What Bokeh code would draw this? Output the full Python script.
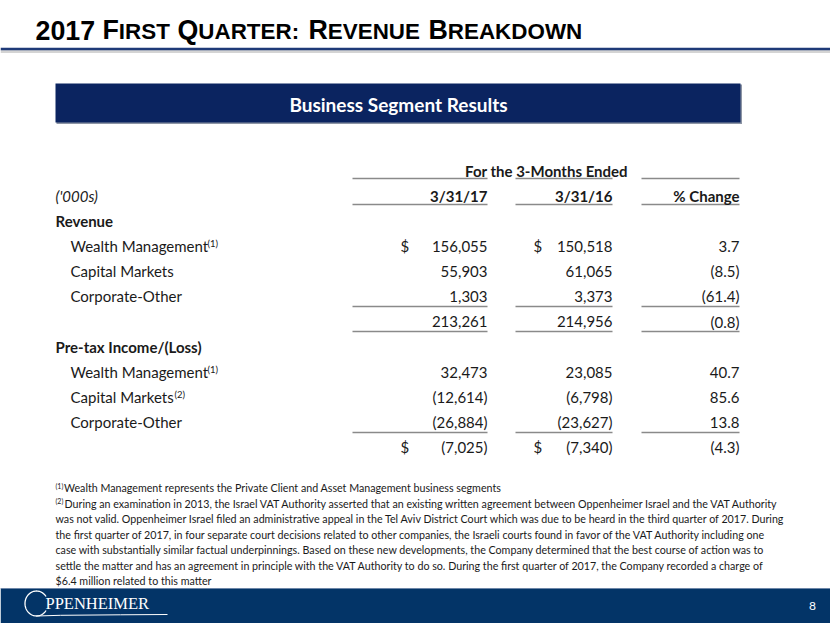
from bokeh.plotting import figure
from bokeh.models import Range1d
from bokeh.core.properties import value
from bokeh.embed import file_html
from bokeh.resources import INLINE
import math

# ---------------- data ----------------
title_words = ["2017", "First", "Quarter:", "Revenue", "Breakdown"]
header_text = "Business Segment Results"
period_label = "For the 3-Months Ended"
col_headers = ["3/31/17", "3/31/16", "% Change"]
unit_label = "('000s)"
rev_section = "Revenue"
pti_section = "Pre-tax Income/(Loss)"
segments = ["Wealth Management", "Capital Markets", "Corporate-Other"]
rev_notes = ["(1)", "", ""]
pti_notes = ["(1)", "(2)", ""]
rev_2017 = [156055, 55903, 1303]
rev_2016 = [150518, 61065, 3373]
rev_pct = [3.7, -8.5, -61.4]
rev_total = [213261, 214956]
rev_total_pct = -0.8
pti_2017 = [32473, -12614, -26884]
pti_2016 = [23085, -6798, -23627]
pti_pct = [40.7, 85.6, 13.8]
pti_total = [-7025, -7340]
pti_total_pct = -4.3
footnote_1 = "Wealth Management represents the Private Client and Asset Management business segments"
footnote_2 = [
    "During an examination in 2013, the Israel VAT Authority asserted that an existing written agreement between Oppenheimer Israel and the VAT Authority",
    "was not valid. Oppenheimer Israel filed an administrative appeal in the Tel Aviv District Court which was due to be heard in the third quarter of 2017. During",
    "the first quarter of 2017, in four separate court decisions related to other companies, the Israeli courts found in favor of the VAT Authority including one",
    "case with substantially similar factual underpinnings. Based on these new developments, the Company determined that the best course of action was to",
    "settle the matter and has an agreement in principle with the VAT Authority to do so. During the first quarter of 2017, the Company recorded a charge of",
    "$6.4 million related to this matter",
]
logo_text = "PPENHEIMER"
page_number = "8"


def fmt_int(v):
    return f"({abs(v):,})" if v < 0 else f"{v:,}"


def fmt_pct(v):
    return f"({abs(v):.1f})" if v < 0 else f"{v:.1f}"


# ---------------- figure ----------------
p = figure(width=830, height=623, x_range=Range1d(0, 830), y_range=Range1d(623, 0),
           output_backend="svg", toolbar_location=None, min_border=0)
p.axis.visible = False
p.grid.visible = False
p.outline_line_color = None
p.background_fill_color = "white"
p.border_fill_color = "white"

TXT = "#1a1a1a"
FONT = "Lato"


def txt(xs, ys, texts, size, font=FONT, style="normal", align="left", color=TXT):
    p.text(x=xs, y=ys, text=texts, text_font=value(font), text_font_size=value(size),
           text_font_style=style, text_align=align, text_baseline="middle", text_color=color)


# ---------------- title (small caps) ----------------
AB = {"F": 611, "Q": 778, "R": 722, "B": 722}
big, small = 26.8, 22.4
title_base = 39
word_x = [35, 102, 177, 308, 428]
for w, x0 in zip(title_words, word_x):
    yb = title_base - 0.35 * big
    ys_ = title_base - 0.35 * small
    if w[0].isdigit():
        txt([x0], [yb], [w], f"{big}px", font="Liberation Sans", style="bold", color="black")
    else:
        txt([x0], [yb], [w[0]], f"{big}px", font="Liberation Sans", style="bold", color="black")
        txt([x0 + AB[w[0]] * big / 1000.0], [ys_], [w[1:].upper()], f"{small}px",
            font="Liberation Sans", style="bold", color="black")

# title rule with shadow
p.segment(x0=[0], x1=[830], y0=[51], y1=[51], line_color="#d4d4d4", line_width=3)
p.segment(x0=[0], x1=[830], y0=[48.5], y1=[48.5], line_color="#1f3a78", line_width=2.5)

# ---------------- header bar ----------------
p.quad(left=[56], right=[741.5], top=[84], bottom=[123.5], fill_color="#8d95a5", line_color=None)
p.quad(left=[55], right=[740], top=[83], bottom=[122], fill_color="#0b2460", line_color=None)
txt([398], [103.5], [header_text], "19px", style="bold", align="center", color="white")

# ---------------- table ----------------
col_right = [487, 612, 739]
col_left = [352, 515, 641]
LINE = "#8a8a8a"

rule_rows = [178, 204, 306, 331, 432]
xs0, xs1, ys = [], [], []
for yy in rule_rows:
    for a, b in zip(col_left, col_right):
        xs0.append(a); xs1.append(b); ys.append(yy)
p.segment(x0=xs0, x1=xs1, y0=ys, y1=ys, line_color=LINE, line_width=1.6)

txt([546], [170], [period_label], "15px", style="bold", align="center")
txt(col_right, [195.5] * 3, col_headers, "15px", style="bold", align="right")
txt([55], [195.5], [unit_label], "15px", style="italic")
txt([55, 55], [220.5, 346.5], [rev_section, pti_section], "15px", style="bold")

rev_rows = [245.5, 270.5, 295.5]
pti_rows = [371.5, 396.5, 421.5]
txt([70] * 3, rev_rows, segments, "15px")
txt([70] * 3, pti_rows, segments, "15px")

# superscripts
sup_x = {"(1)": 207, "(2)": 174}
sx, sy, st = [], [], []
for rows, notes in ((rev_rows, rev_notes), (pti_rows, pti_notes)):
    for yy, n in zip(rows, notes):
        if n:
            sx.append(sup_x[n]); sy.append(yy - 2.5); st.append(n)
txt(sx, sy, st, "9.5px")

# values
txt([col_right[0]] * 3, rev_rows, [fmt_int(v) for v in rev_2017], "15px", align="right")
txt([col_right[1]] * 3, rev_rows, [fmt_int(v) for v in rev_2016], "15px", align="right")
txt([col_right[2]] * 3, rev_rows, [fmt_pct(v) for v in rev_pct], "15px", align="right")
txt(col_right, [321] * 3, [fmt_int(rev_total[0]), fmt_int(rev_total[1]), fmt_pct(rev_total_pct)],
    "15px", align="right")
txt([col_right[0]] * 3, pti_rows, [fmt_int(v) for v in pti_2017], "15px", align="right")
txt([col_right[1]] * 3, pti_rows, [fmt_int(v) for v in pti_2016], "15px", align="right")
txt([col_right[2]] * 3, pti_rows, [fmt_pct(v) for v in pti_pct], "15px", align="right")
txt(col_right, [446.5] * 3, [fmt_int(pti_total[0]), fmt_int(pti_total[1]), fmt_pct(pti_total_pct)],
    "15px", align="right")
txt([400, 533, 400, 533], [245.5, 245.5, 446.5, 446.5], ["$"] * 4, "15px")

# ---------------- footnotes ----------------
FN = "10.7px"
fn0 = 487
step = 15.5
txt([55, 55], [fn0 - 2, fn0 + step - 2], ["(1)", "(2)"], "7px")
txt([63.5], [fn0], [footnote_1], FN)
fn_y = [fn0 + step * (i + 1) for i in range(len(footnote_2))]
txt([64] + [55] * (len(footnote_2) - 1), fn_y, footnote_2, FN)

# ---------------- footer ----------------
p.quad(left=[0], right=[830], top=[588], bottom=[623], fill_color="#033467", line_color=None)
p.segment(x0=[0], x1=[830], y0=[588], y1=[588], line_color="#6d86a8", line_width=1)
# logo "O"
ang = [math.radians(a) for a in range(34, 328, 4)]
p.line(x=[36 + 11.5 * math.cos(a) for a in ang], y=[603 - 12.5 * math.sin(a) for a in ang],
       line_color="white", line_width=1.3)
p.line(x=[36, 60, 120, 167], y=[615.5, 614.8, 614.3, 614.0], line_color="white", line_width=1)
txt([45], [603], [logo_text], "16.5px", font="Liberation Serif", color="white")
txt([812], [605], [page_number], "12px", color="white", align="center")

open("out.html", "w").write(file_html(p, INLINE))
